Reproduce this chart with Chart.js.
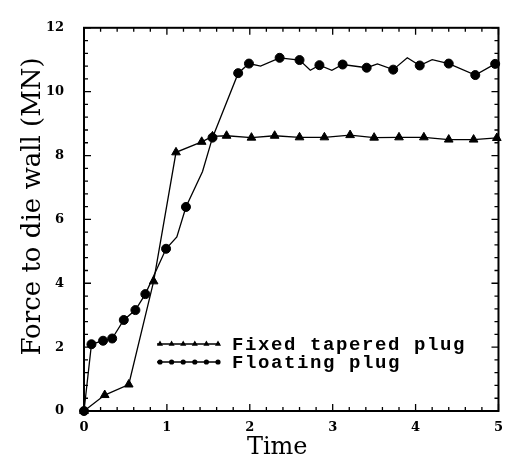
<!DOCTYPE html>
<html>
<head>
<meta charset="utf-8">
<title>Force to die wall</title>
<script src="https://cdn.jsdelivr.net/npm/chart.js@4.4.0/dist/chart.umd.min.js"></script>
<style>
  html, body { margin: 0; padding: 0; background: #fff; }
  canvas { display: block; }
</style>
</head>
<body>
<canvas id="chart" width="512" height="463"></canvas>
<script>
// values
const fixedTime  = [0, 0.25, 0.54, 0.84, 1.11, 1.42, 1.55, 1.72, 2.02, 2.3, 2.6, 2.9, 3.21, 3.5, 3.8, 4.1, 4.4, 4.7, 4.98];
const fixedForce = [0, 0.5, 0.83, 4.06, 8.1, 8.43, 8.6, 8.62, 8.56, 8.62, 8.57, 8.57, 8.64, 8.56, 8.57, 8.57, 8.5, 8.5, 8.55];

const floatTime  = [0, 0.09, 0.23, 0.34, 0.48, 0.62, 0.74, 0.99, 1.12, 1.23, 1.43, 1.55, 1.86, 1.99, 2.13, 2.36,
                    2.6, 2.73, 2.84, 2.99, 3.12, 3.41, 3.54, 3.73, 3.9, 4.05, 4.2, 4.4, 4.72, 4.96];
const floatForce = [0, 2.09, 2.2, 2.27, 2.85, 3.16, 3.66, 5.08, 5.45, 6.39, 7.5, 8.56, 10.58, 10.88, 10.8, 11.06,
                    10.99, 10.67, 10.83, 10.67, 10.85, 10.75, 10.87, 10.69, 11.06, 10.82, 11.0, 10.88, 10.52, 10.87];

const seriesLabels = ['Fixed tapered plug', 'Floating plug'];
const xTitle = 'Time';
const yTitle = 'Force to die wall (MN)';

// the floating plug curve has a few bends that carry no marker
const floatBendsOnly = [8, 10, 14, 17, 19, 22, 24, 26];

const toPoints = (xs, ys) => xs.map((v, i) => ({ x: v, y: ys[i] }));

const serif = '"DejaVu Serif", serif';

// frame with inward ticks on all four sides
const frameTicks = {
  id: 'frameTicks',
  afterDatasetsDraw(chart) {
    const { ctx, chartArea: a, scales: { x, y } } = chart;
    ctx.save();
    ctx.strokeStyle = '#000';
    ctx.lineWidth = 2;
    ctx.strokeRect(a.left, a.top, a.right - a.left, a.bottom - a.top);
    ctx.lineWidth = 1.3;
    ctx.beginPath();
    for (let i = 0; i <= 25; i++) {
      const px = x.getPixelForValue(i * 0.2);
      const len = i % 5 === 0 ? 7 : 4;
      ctx.moveTo(px, a.bottom); ctx.lineTo(px, a.bottom - len);
      ctx.moveTo(px, a.top); ctx.lineTo(px, a.top + len);
    }
    for (let i = 0; i <= 30; i++) {
      const py = y.getPixelForValue(i * 0.4);
      const len = i % 5 === 0 ? 7 : 4;
      ctx.moveTo(a.left, py); ctx.lineTo(a.left + len, py);
      ctx.moveTo(a.right, py); ctx.lineTo(a.right - len, py);
    }
    ctx.stroke();
    ctx.restore();
  }
};

// axis titles, placed like the original (a bit off centre)
const axisTitles = {
  id: 'axisTitles',
  afterDraw(chart) {
    const { ctx, chartArea: a } = chart;
    ctx.save();
    ctx.fillStyle = '#000';
    ctx.textAlign = 'center';
    ctx.textBaseline = 'middle';
    ctx.font = '24px ' + serif;
    ctx.fillText(xTitle, (a.left + a.right) / 2 - 14, a.bottom + 37);
    ctx.translate(33, (a.top + a.bottom) / 2 - 13);
    ctx.rotate(-Math.PI / 2);
    ctx.font = '26px ' + serif;
    ctx.fillText(yTitle, 0, 0);
    ctx.restore();
  }
};

function marker(ctx, style, cx, cy, r) {
  ctx.beginPath();
  if (style === 'triangle') {
    ctx.moveTo(cx, cy - r);
    ctx.lineTo(cx + r * 0.87, cy + r * 0.5);
    ctx.lineTo(cx - r * 0.87, cy + r * 0.5);
    ctx.closePath();
  } else {
    ctx.arc(cx, cy, r, 0, Math.PI * 2);
  }
  ctx.fill();
}

// legend inside the plot: a short line with several small markers
const insideLegend = {
  id: 'insideLegend',
  afterDraw(chart) {
    const { ctx, chartArea: a } = chart;
    const x0 = a.left + 73, x1 = a.left + 136, textX = a.left + 148;
    ctx.save();
    ctx.fillStyle = '#000';
    ctx.strokeStyle = '#000';
    ctx.lineWidth = 1.3;
    ctx.font = 'bold 19px "Liberation Mono", monospace';
    ctx.letterSpacing = '1.6px';
    ctx.textBaseline = 'middle';
    chart.data.datasets.forEach((ds, k) => {
      const cy = a.bottom - 67 + k * 18;
      ctx.beginPath();
      ctx.moveTo(x0, cy); ctx.lineTo(x1, cy);
      ctx.stroke();
      for (let m = 0; m < 6; m++) {
        marker(ctx, ds.pointStyle, x0 + 3 + m * 11.6, cy, ds.pointStyle === 'triangle' ? 3.5 : 2.6);
      }
      ctx.fillText(ds.label, textX, cy + 1);
    });
    ctx.restore();
  }
};

new Chart(document.getElementById('chart'), {
  type: 'scatter',
  data: {
    datasets: [
      {
        label: seriesLabels[0],
        data: toPoints(fixedTime, fixedForce),
        showLine: true,
        borderColor: '#000',
        backgroundColor: '#000',
        borderWidth: 1.3,
        pointStyle: 'triangle',
        pointRadius: 5,
        pointBorderWidth: 1,
        clip: false
      },
      {
        label: seriesLabels[1],
        data: toPoints(floatTime, floatForce),
        showLine: true,
        borderColor: '#000',
        backgroundColor: '#000',
        borderWidth: 1.3,
        pointStyle: 'circle',
        pointRadius: ctx => floatBendsOnly.includes(ctx.dataIndex) ? 0 : 4.5,
        pointBorderWidth: 1,
        clip: false
      }
    ]
  },
  options: {
    responsive: false,
    animation: false,
    devicePixelRatio: 1,
    layout: { padding: { top: 15, right: 10, left: 0, bottom: 0 } },
    plugins: {
      legend: { display: false },
      tooltip: { enabled: false }
    },
    scales: {
      x: {
        type: 'linear',
        min: 0,
        max: 5,
        ticks: { stepSize: 1, color: '#000', padding: 9, font: { family: serif, size: 13, weight: 'bold' } },
        grid: { display: false, drawTicks: false },
        border: { display: false },
        afterFit: s => { s.height = 52; }
      },
      y: {
        min: 0,
        max: 12,
        ticks: { stepSize: 2, color: '#000', padding: 20, font: { family: serif, size: 13, weight: 'bold' } },
        grid: { display: false, drawTicks: false },
        border: { display: false },
        afterFit: s => { s.width = 84; }
      }
    }
  },
  plugins: [frameTicks, axisTitles, insideLegend]
});
</script>
</body>
</html>
